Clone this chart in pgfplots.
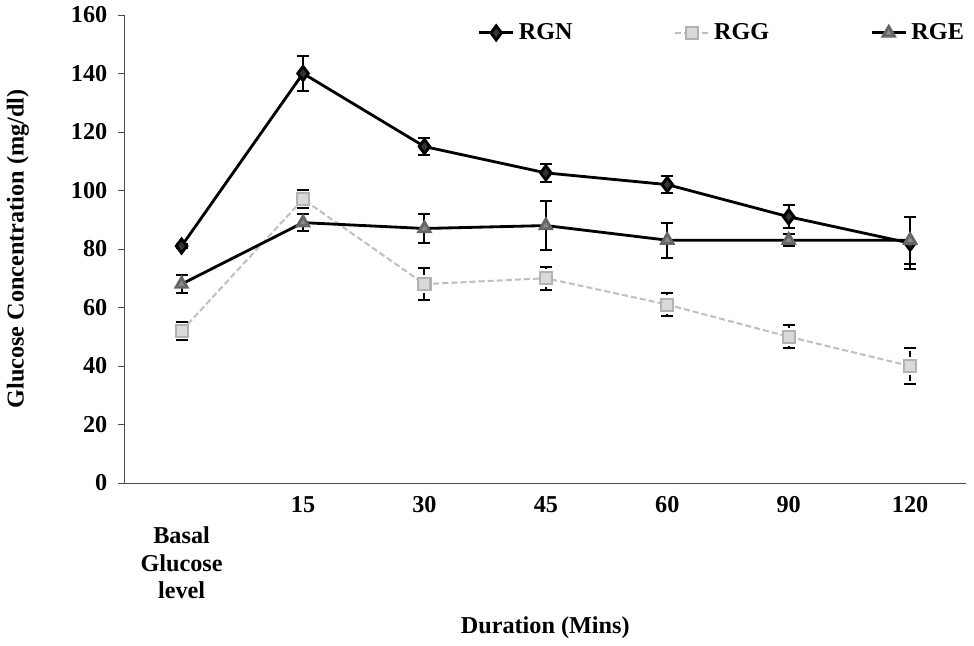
\documentclass[border=0pt]{standalone}
\usepackage{pgfplots}
\pgfplotsset{compat=1.18}
\usepackage{fontspec}
\setmainfont{Liberation Serif}
\begin{document}
\begin{tikzpicture}
\begin{axis}[
  scale only axis,
  width=417pt, height=232pt,
  xmin=-0.47, xmax=6.46,
  ymin=0, ymax=160,
  ytick={0,20,...,160},
  xtick={0,1,2,3,4,5,6},
  xticklabels={{\strut\\Basal\\Glucose\\level},15,30,45,60,90,120},
  xticklabel style={align=center, font=\fontsize{12}{13.75}\selectfont\bfseries},
  yticklabel style={font=\fontsize{12}{14}\selectfont\bfseries, xshift=-2pt},
  /pgf/number format/assume math mode=true,
  axis x line=bottom, axis y line=left,
  axis line style={-, draw=black!70, thin},
  xtick style={draw=none},
  ytick style={draw=black!70},
  tick align=outside,
  major tick length=3pt,
  xlabel={Duration (Mins)},
  ylabel={Glucose Concentration (mg/dl)},
  label style={font=\fontsize{12}{14}\selectfont\bfseries},
  xlabel style={yshift=-2pt},
  ylabel style={yshift=14pt},
  legend columns=3,
  legend style={draw=none, fill=none, at={(1.01,1.0)}, anchor=north east,
    font=\fontsize{12}{14}\selectfont\bfseries,
    /tikz/every even column/.append style={column sep=48pt}},
  legend cell align=left,
  error bars/y dir=both, error bars/y explicit,
  error bars/error mark options={rotate=90, mark size=3pt, line width=1pt, black},
  error bars/error bar style={line width=1pt, black},
]
\addplot[black, line width=1.4pt, mark=diamond*, mark size=3.5pt, mark options={fill=black!80}]
 coordinates {(0,81) +- (0,0.8) (1,140) +- (0,6) (2,115) +- (0,3) (3,106) +- (0,3) (4,102) +- (0,3) (5,91) +- (0,4) (6,82) +- (0,9)};
\addlegendentry{RGN}
\addplot[black!25, line width=1pt, dash pattern=on 3pt off 1.5pt, mark=square*, mark size=3pt, mark options={solid, fill=black!15, draw=black!30}]
 coordinates {(0,52) +- (0,3) (1,97) +- (0,3) (2,68) +- (0,5.5) (3,70) +- (0,4) (4,61) +- (0,4) (5,50) +- (0,4) (6,40) +- (0,6)};
\addlegendentry{RGG}
\addplot[black, line width=1.4pt, mark=triangle*, mark size=3.2pt, mark options={fill=black!45, draw=black!60}]
 coordinates {(0,68) +- (0,3) (1,89) +- (0,3) (2,87) +- (0,5) (3,88) +- (0,8.5) (4,83) +- (0,6) (5,83) +- (0,2) (6,83) +- (0,8)};
\addlegendentry{RGE}
\end{axis}
\end{tikzpicture}
\end{document}
